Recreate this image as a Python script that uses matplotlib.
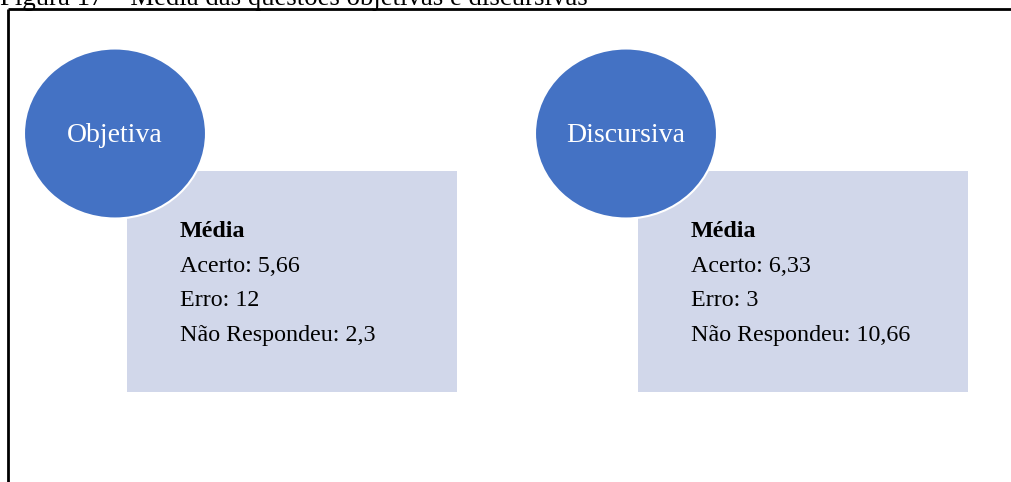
import matplotlib.pyplot as plt
from matplotlib.patches import Ellipse, Rectangle

plt.rcParams['font.family'] = ['Liberation Serif', 'DejaVu Serif']

# dados
titulo = "Figura 17 – Média das questões objetivas e discursivas"
categorias = ["Objetiva", "Discursiva"]
acerto = ["5,66", "6,33"]
erro = ["12", "3"]
nao_respondeu = ["2,3", "10,66"]

W, H = 1011, 482
fig = plt.figure(figsize=(W / 100, H / 100), dpi=100)
ax = fig.add_axes([0, 0, 1, 1])
ax.set_xlim(0, W)
ax.set_ylim(H, 0)
ax.axis("off")

azul = "#4472C4"
lilas = "#D1D7EA"

# titulo cortado no topo
ax.text(0, 5, titulo, fontsize=19.3, ha="left", va="baseline", color="black")

# moldura (apenas topo e lado esquerdo visiveis)
ax.plot([7.5, W + 5], [9, 9], color="black", lw=2, solid_capstyle="butt")
ax.plot([7.5, 7.5], [9, H + 5], color="black", lw=2, solid_capstyle="butt")

# deslocamento horizontal de cada bloco
offsets = [0, 511]

for i, cat in enumerate(categorias):
    dx = offsets[i]
    ax.add_patch(Rectangle((127 + dx, 171), 330, 221, facecolor=lilas,
                           edgecolor="none", zorder=1))
    ax.add_patch(Ellipse((115 + dx, 133.5), 182, 170, facecolor=azul,
                         edgecolor="white", lw=1.5, zorder=2))
    ax.text(115 + dx, 142.5, cat, fontsize=20, color="white",
            ha="center", va="baseline", zorder=3)

    linhas = [("Média", "bold"),
              ("Acerto: " + acerto[i], "normal"),
              ("Erro: " + erro[i], "normal"),
              ("Não Respondeu: " + nao_respondeu[i], "normal")]
    for j, (txt, peso) in enumerate(linhas):
        ax.text(180 + dx, 237.3 + j * 34.5, txt, fontsize=17.3,
                fontweight=peso, ha="left", va="baseline", zorder=3)

fig.savefig("out.png", dpi=100)
